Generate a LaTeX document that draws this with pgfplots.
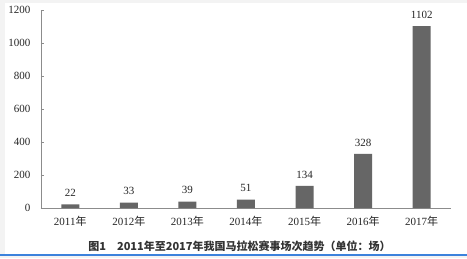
\documentclass[border=0pt]{standalone}
\usepackage{pgfplots}
\pgfplotsset{compat=1.18}
\usepackage{fontspec}
\setmainfont{Liberation Serif}
\newfontfamily\cjk{Noto Sans CJK SC}
\definecolor{barc}{HTML}{666666}
\definecolor{axisgray}{HTML}{8C8C8C}
\definecolor{bgray}{HTML}{F3F3F3}
\definecolor{blueline}{HTML}{3C82DC}
\begin{document}
\begin{tikzpicture}
\fill[bgray] (0,0) rectangle (467pt,258pt);
\fill[white] (5pt,4.5pt) rectangle (467pt,255pt);
\fill[blueline] (0,2pt) rectangle (467pt,4.5pt);
\begin{axis}[
  at={(41pt,50pt)}, anchor=south west,
  scale only axis, width=410pt, height=198pt,
  xmin=-0.5, xmax=6.5, ymin=0, ymax=1200,
  axis x line=bottom, axis y line=left,
  axis line style={-, draw=axisgray, line width=0.8pt},
  ybar, bar width=18pt,
  xtick={0,...,6},
  xticklabels={2011{\cjk 年},2012{\cjk 年},2013{\cjk 年},2014{\cjk 年},2015{\cjk 年},2016{\cjk 年},2017{\cjk 年}},
  x tick style={draw=none},
  ytick={0,200,...,1200},
  y tick style={draw=axisgray, line width=0.6pt},
  major tick length=3pt,
  tick align=inside,
  /pgf/number format/assume math mode=true,
  /pgf/number format/1000 sep={},
  ticklabel style={font=\fontsize{11}{13}\selectfont, text=black!85},
  xticklabel style={yshift=-5pt},
  yticklabel style={xshift=-7pt},
  nodes near coords,
  every node near coord/.append style={font=\fontsize{11}{13}\selectfont, text=black!85, yshift=4pt},
]
\addplot[fill=barc, draw=none] coordinates {(0,22) (1,33) (2,39) (3,51) (4,134) (5,328) (6,1102)};
\end{axis}
\node[text=black!80] at (239.5pt,11.5pt) {\cjk\bfseries\fontsize{11}{13}\selectfont 图1\hspace{1em}2011年至2017年我国马拉松赛事场次趋势（单位：场）};
\end{tikzpicture}
\end{document}
